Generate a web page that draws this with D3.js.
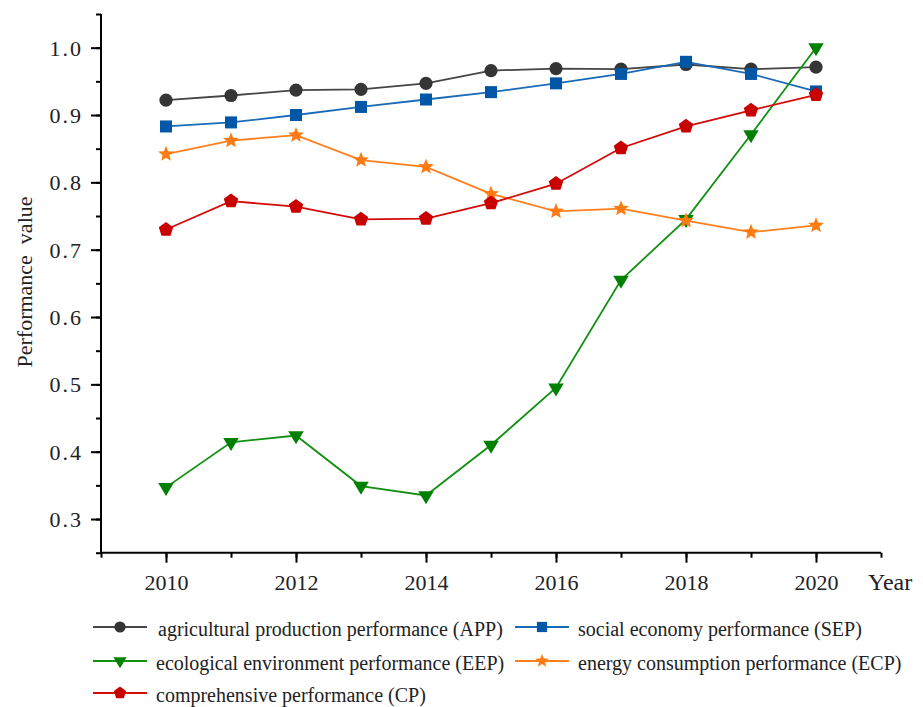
<!DOCTYPE html>
<html>
<head>
<meta charset="utf-8">
<script src="https://cdn.jsdelivr.net/npm/d3@7"></script>
<style>
  html, body { margin: 0; padding: 0; background: #fff; }
  svg { display: block; }
  svg text { font-family: "Liberation Serif", "DejaVu Serif", serif; }
</style>
</head>
<body>
<svg id="chart" width="923" height="707"></svg>
<script>
// Years on the horizontal axis
const years = [2010, 2011, 2012, 2013, 2014, 2015, 2016, 2017, 2018, 2019, 2020];

// Performance values per series
const appValues = [0.922, 0.929, 0.937, 0.938, 0.947, 0.966, 0.969, 0.968, 0.975, 0.968, 0.971];
const sepValues = [0.883, 0.889, 0.900, 0.912, 0.923, 0.934, 0.947, 0.961, 0.979, 0.961, 0.935];
const eepValues = [0.347, 0.414, 0.424, 0.349, 0.335, 0.410, 0.495, 0.655, 0.745, 0.871, 1.000];
const ecpValues = [0.842, 0.862, 0.870, 0.833, 0.823, 0.783, 0.757, 0.761, 0.743, 0.726, 0.736];
const cpValues  = [0.730, 0.772, 0.764, 0.745, 0.746, 0.769, 0.798, 0.851, 0.883, 0.907, 0.930];

// Axis tick values and labels
const yTickValues = [0.3, 0.4, 0.5, 0.6, 0.7, 0.8, 0.9, 1.0];
const xTickValues = [2010, 2012, 2014, 2016, 2018, 2020];

const seriesNames = [
  "agricultural production performance (APP)",
  "social economy performance (SEP)",
  "ecological environment performance (EEP)",
  "energy consumption performance (ECP)",
  "comprehensive performance (CP)"
];

// Marker shape generators, each centred on (0,0)
function polygonPath(points) {
  return "M" + points.map(p => p[0].toFixed(2) + "," + p[1].toFixed(2)).join("L") + "Z";
}
function regularPolygon(n, r) {
  const pts = [];
  for (let i = 0; i < n; i++) {
    const a = -Math.PI / 2 + i * 2 * Math.PI / n;
    pts.push([r * Math.cos(a), r * Math.sin(a)]);
  }
  return polygonPath(pts);
}
function starShape(R, r) {
  const pts = [];
  for (let i = 0; i < 10; i++) {
    const a = -Math.PI / 2 + i * Math.PI / 5;
    const rad = i % 2 === 0 ? R : r;
    pts.push([rad * Math.cos(a), rad * Math.sin(a)]);
  }
  return polygonPath(pts);
}
function downTriangle(w, h) {
  return polygonPath([[-w / 2, -h / 3], [w / 2, -h / 3], [0, 2 * h / 3]]);
}
function circleShape(r) {
  return `M${-r},0A${r},${r} 0 1,0 ${r},0A${r},${r} 0 1,0 ${-r},0Z`;
}
function squareShape(s) {
  return `M${-s / 2},${-s / 2}H${s / 2}V${s / 2}H${-s / 2}Z`;
}

const series = [
  { name: seriesNames[0], values: appValues, line: "#454545", fill: "#353535",
    marker: k => circleShape(6.6 * k) },
  { name: seriesNames[1], values: sepValues, line: "#1a6ab8", fill: "#0057a6",
    marker: k => squareShape(12 * k) },
  { name: seriesNames[2], values: eepValues, line: "#119011", fill: "#008000",
    marker: k => downTriangle(15.5 * k, 13 * k) },
  { name: seriesNames[3], values: ecpValues, line: "#ff7f1e", fill: "#ff7b12",
    marker: k => starShape(8.3 * k, 3.6 * k) },
  { name: seriesNames[4], values: cpValues, line: "#d40a0a", fill: "#c80000",
    marker: k => regularPolygon(5, 7.6 * k) }
];

const serif = '"Liberation Serif", "DejaVu Serif", serif';
const svg = d3.select("#chart");

const x = d3.scaleLinear().domain([2009, 2021]).range([101, 881]);
const y = d3.scaleLinear().domain([0.25, 1.05]).range([552.7, 14]);

// Y axis: major ticks every 0.1, minor every 0.05
const yMinor = d3.range(5, 22).map(i => i * 0.05);
const yAxisG = svg.append("g").attr("transform", `translate(${x.range()[0]},0)`);
yAxisG.call(d3.axisLeft(y).tickValues(yMinor).tickSize(5).tickFormat(""));
yAxisG.selectAll(".tick line").attr("stroke", "#000").attr("stroke-width", 2);
yAxisG.select(".domain").attr("stroke", "#000").attr("stroke-width", 2)
  .attr("d", `M0,${y.range()[1]}V${y.range()[0] + 1}`);

const yMajorG = svg.append("g").attr("transform", `translate(${x.range()[0]},0)`);
yMajorG.call(d3.axisLeft(y).tickValues(yTickValues).tickSize(10).tickPadding(8)
  .tickFormat(d3.format(".1f")));
yMajorG.attr("font-family", null).attr("font-size", null);
yMajorG.select(".domain").remove();
yMajorG.selectAll(".tick line").attr("stroke", "#000").attr("stroke-width", 2);
yMajorG.selectAll(".tick text")
  .style("font-family", serif)
  .style("font-size", "22px")
  .attr("fill", "#222")
  .attr("letter-spacing", 2)
  .attr("dy", "0.34em");

// X axis: major ticks at even years, minor at every year
const xMinor = d3.range(2009, 2022);
const xAxisG = svg.append("g").attr("transform", `translate(0,${y.range()[0]})`);
xAxisG.call(d3.axisBottom(x).tickValues(xMinor).tickSize(5).tickFormat(""));
xAxisG.selectAll(".tick line").attr("stroke", "#000").attr("stroke-width", 2);
xAxisG.select(".domain").attr("stroke", "#000").attr("stroke-width", 2)
  .attr("d", `M${x.range()[0] - 1},0H${x.range()[1]}`);

const xMajorG = svg.append("g").attr("transform", `translate(0,${y.range()[0]})`);
xMajorG.call(d3.axisBottom(x).tickValues(xTickValues).tickSize(10).tickPadding(12)
  .tickFormat(d3.format("d")));
xMajorG.attr("font-family", null).attr("font-size", null);
xMajorG.select(".domain").remove();
xMajorG.selectAll(".tick line").attr("stroke", "#000").attr("stroke-width", 2);
xMajorG.selectAll(".tick text")
  .style("font-family", serif)
  .style("font-size", "22px")
  .attr("fill", "#222");

// Axis titles
svg.append("text")
  .attr("x", 868).attr("y", 590)
  .style("font-size", "24px").attr("fill", "#222")
  .text("Year");

svg.append("text")
  .attr("transform", `translate(32,282) rotate(-90)`)
  .attr("text-anchor", "middle")
  .style("font-size", "22px").attr("fill", "#222")
  .style("white-space", "pre")
  .text("Performance  value");

// Series lines and markers
const lineGen = d3.line().x((d, i) => x(years[i])).y(d => y(d));

series.forEach(s => {
  const g = svg.append("g");
  g.append("path")
    .datum(s.values)
    .attr("d", lineGen)
    .attr("fill", "none")
    .attr("stroke", s.line)
    .attr("stroke-width", 1.8);
  g.selectAll("path.marker")
    .data(s.values)
    .join("path")
    .attr("class", "marker")
    .attr("transform", (d, i) => `translate(${x(years[i])},${y(d)})`)
    .attr("d", s.marker(1))
    .attr("fill", s.fill);
});

// Legend: two columns, three rows
const legendItems = [
  { s: series[0], lx: 93, ty: 627, tx: 158 },
  { s: series[1], lx: 515, ty: 627, tx: 578 },
  { s: series[2], lx: 93, ty: 661, tx: 156 },
  { s: series[3], lx: 515, ty: 661, tx: 578 },
  { s: series[4], lx: 93, ty: 693, tx: 156 }
];
const legend = svg.append("g");
legendItems.forEach(it => {
  const g = legend.append("g");
  g.append("line")
    .attr("x1", it.lx).attr("x2", it.lx + 54)
    .attr("y1", it.ty).attr("y2", it.ty)
    .attr("stroke", it.s.line).attr("stroke-width", 1.8);
  g.append("path")
    .attr("transform", `translate(${it.lx + 27},${it.ty})`)
    .attr("d", it.s.marker(0.85))
    .attr("fill", it.s.fill);
  g.append("text")
    .attr("x", it.tx).attr("y", it.ty + 9)
    .style("font-size", "20px").attr("fill", "#222")
    .text(it.s.name);
});
</script>
</body>
</html>
